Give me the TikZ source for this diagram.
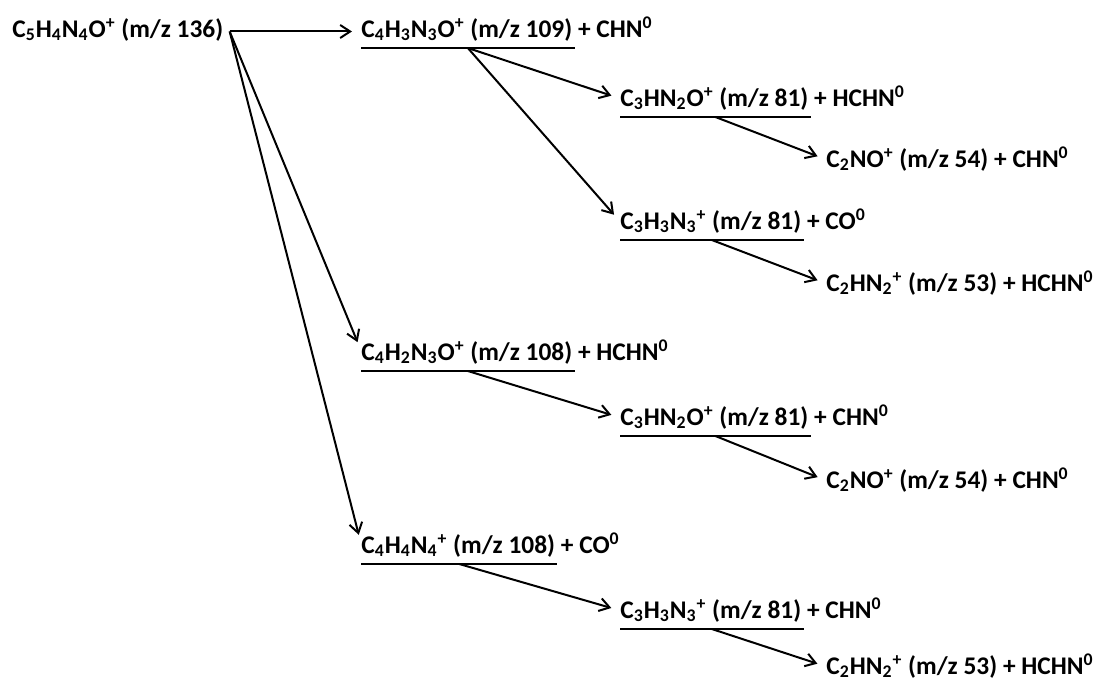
\documentclass[tikz,border=0pt]{standalone}
\usepackage{fontspec}
\setmainfont{Carlito}
\usetikzlibrary{arrows.meta, positioning}

\newcommand{\lo}[1]{\textsubscript{#1}}
\newcommand{\hi}[1]{\textsuperscript{#1}}

\begin{document}
\begin{tikzpicture}[
  x=0.5pt, y=-0.5pt,
  txt/.style   = {font=\bfseries\fontsize{12.7}{15}\selectfont, inner xsep=0pt, inner ysep=0pt},
  ion/.style   = {txt, anchor=base west},
  neut/.style  = {txt},
  uline/.style = {line width=1pt},
  arr/.style   = {-{Straight Barb[length=5pt, width=6.5pt]}, line width=1pt, shorten >=4.5pt},
]
\useasboundingbox (0,0) rectangle (1100,686);

%% Parent ion
\node[ion] (root) at (12, 37) {C\lo{5}H\lo{4}N\lo{4}O\hi{+} (m/z 136)};
\coordinate (rs) at ([xshift=3pt, yshift=-1pt]root.east);

%% First branch: loss of CHN
\node[ion]  (a)   at (361, 37)  {C\lo{4}H\lo{3}N\lo{3}O\hi{+} (m/z 109)};
\node[neut, base right=2.5pt of a] (an) {+ CHN\hi{0}};
\node[ion]  (aa)  at (620, 106) {C\lo{3}HN\lo{2}O\hi{+} (m/z 81)};
\node[neut, base right=2.5pt of aa] (aan) {+ HCHN\hi{0}};
\node[ion]  (aaa) at (826, 167) {C\lo{2}NO\hi{+} (m/z 54)};
\node[neut, base right=2.5pt of aaa] (aaan) {+ CHN\hi{0}};
\node[ion]  (ab)  at (620, 229) {C\lo{3}H\lo{3}N\lo{3}\hi{+} (m/z 81)};
\node[neut, base right=2.5pt of ab] (abn) {+ CO\hi{0}};
\node[ion]  (aba) at (826, 291) {C\lo{2}HN\lo{2}\hi{+} (m/z 53)};
\node[neut, base right=2.5pt of aba] (aban) {+ HCHN\hi{0}};

%% Second branch: loss of HCHN
\node[ion]  (b)   at (361, 360) {C\lo{4}H\lo{2}N\lo{3}O\hi{+} (m/z 108)};
\node[neut, base right=2.5pt of b] (bn) {+ HCHN\hi{0}};
\node[ion]  (ba)  at (620, 425) {C\lo{3}HN\lo{2}O\hi{+} (m/z 81)};
\node[neut, base right=2.5pt of ba] (ban) {+ CHN\hi{0}};
\node[ion]  (baa) at (826, 488) {C\lo{2}NO\hi{+} (m/z 54)};
\node[neut, base right=2.5pt of baa] (baan) {+ CHN\hi{0}};

%% Third branch: loss of CO
\node[ion]  (c)   at (361, 553) {C\lo{4}H\lo{4}N\lo{4}\hi{+} (m/z 108)};
\node[neut, base right=2.5pt of c] (cn) {+ CO\hi{0}};
\node[ion]  (ca)  at (620, 618) {C\lo{3}H\lo{3}N\lo{3}\hi{+} (m/z 81)};
\node[neut, base right=2.5pt of ca] (can) {+ CHN\hi{0}};
\node[ion]  (caa) at (826, 674) {C\lo{2}HN\lo{2}\hi{+} (m/z 53)};
\node[neut, base right=2.5pt of caa] (caan) {+ HCHN\hi{0}};

%% Underlines below the intermediate ions
\foreach \n in {a, aa, ab, b, ba, c, ca}
  \draw[uline] ([yshift=-5.5pt]\n.base west) -- ([yshift=-5.5pt,xshift=1pt]\n.base east)
               coordinate[midway] (\n-u);

%% Fragmentation arrows
\draw[arr] (rs) -- (rs -| a.west);
\draw[arr] (rs) -- ([yshift=1pt]b.west);
\draw[arr] (rs) -- ([yshift=1pt]c.west);
\draw[arr] (a-u) -- (aa.west);
\draw[arr] (a-u) -- (ab.west);
\draw[arr] (aa-u) -- (aaa.west);
\draw[arr] (ab-u) -- (aba.west);
\draw[arr] (b-u) -- (ba.west);
\draw[arr] (ba-u) -- (baa.west);
\draw[arr] (c-u) -- (ca.west);
\draw[arr] (ca-u) -- (caa.west);

\end{tikzpicture}
\end{document}
